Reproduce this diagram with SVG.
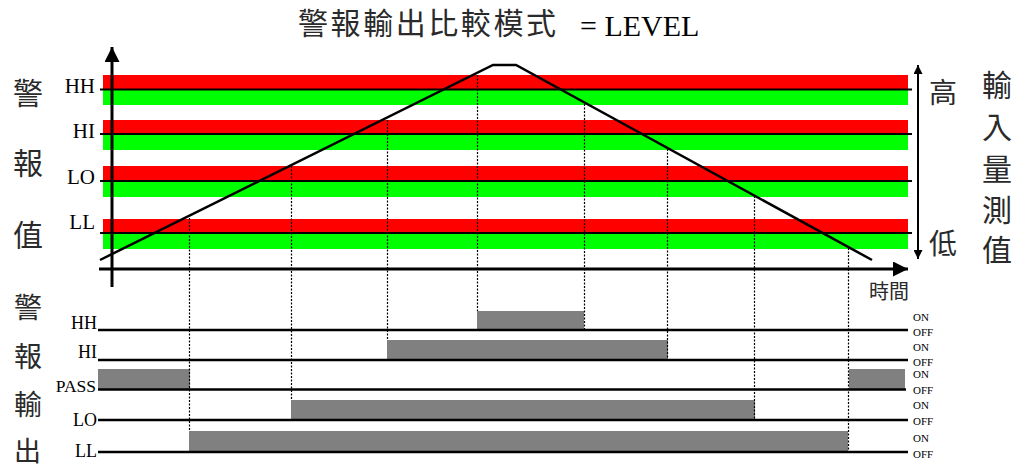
<svg xmlns="http://www.w3.org/2000/svg" width="1021" height="468" viewBox="0 0 1021 468">
<style>
.cjk{font-family:"Noto Sans CJK TC","Noto Sans CJK SC",sans-serif;fill:#2a2a2a}
.lat{font-family:"Liberation Serif","Times New Roman",serif;fill:#000}
.red{fill:#ff0000}
.grn{fill:#00ff00}
.thr{stroke:#000;stroke-width:2.2}
.out{stroke:#000;stroke-width:2.5}
.bar{fill:#808080}
.dot{stroke:#000;stroke-width:1.2;stroke-dasharray:2 1.5;fill:none}
.ax{stroke:#000;stroke-width:3;fill:none}
.onoff{font-size:11px}
</style>
<defs>
<marker id="ah" viewBox="0 0 10 10" refX="10" refY="5" markerWidth="5" markerHeight="5" orient="auto-start-reverse" markerUnits="strokeWidth">
<path d="M0,0 L10,5 L0,10 Z" fill="#000"/>
</marker>
<marker id="ah2" viewBox="0 0 10 10" refX="10" refY="5" markerWidth="6" markerHeight="4.5" orient="auto-start-reverse" markerUnits="strokeWidth">
<path d="M0,0 L10,5 L0,10 Z" fill="#000"/>
</marker>
</defs>

<g id="title">
<text class="cjk" x="298" y="34" font-size="30" textLength="258" lengthAdjust="spacing">警報輸出比較模式</text>
<text class="lat" x="580" y="36" font-size="30">= LEVEL</text>
</g>

<g id="side-labels">
<text class="cjk" x="13" y="104" font-size="30">警</text>
<text class="cjk" x="13" y="174" font-size="30">報</text>
<text class="cjk" x="13" y="246" font-size="30">值</text>
<text class="cjk" x="14" y="318" font-size="28">警</text>
<text class="cjk" x="14" y="367" font-size="28">報</text>
<text class="cjk" x="14" y="415" font-size="28">輸</text>
<text class="cjk" x="14" y="461" font-size="27">出</text>
<text class="cjk" x="929" y="103" font-size="28">高</text>
<text class="cjk" x="929" y="254" font-size="28">低</text>
<text class="cjk" x="982" y="96" font-size="30">輸</text>
<text class="cjk" x="982" y="138" font-size="30">入</text>
<text class="cjk" x="982" y="180" font-size="30">量</text>
<text class="cjk" x="982" y="221" font-size="30">測</text>
<text class="cjk" x="982" y="261" font-size="30">值</text>
<text class="cjk" x="869" y="299" font-size="20">時間</text>
</g>

<g id="bands">
<rect class="red" x="103" y="75" width="805" height="15"/>
<rect class="grn" x="103" y="90" width="805" height="15"/>
<rect class="red" x="103" y="120" width="805" height="15"/>
<rect class="grn" x="103" y="135" width="805" height="15"/>
<rect class="red" x="103" y="166" width="805" height="15"/>
<rect class="grn" x="103" y="181" width="805" height="16"/>
<rect class="red" x="103" y="219" width="805" height="14"/>
<rect class="grn" x="103" y="233" width="805" height="16"/>
</g>

<g id="thresholds">
<line class="thr" x1="100" y1="89.5" x2="912" y2="89.5"/>
<line class="thr" x1="100" y1="134" x2="912" y2="134"/>
<line class="thr" x1="100" y1="181" x2="912" y2="181"/>
<line class="thr" x1="100" y1="233" x2="912" y2="233"/>
<text class="lat" x="95" y="93" font-size="21" text-anchor="end">HH</text>
<text class="lat" x="95" y="138" font-size="21" text-anchor="end">HI</text>
<text class="lat" x="95" y="184" font-size="21" text-anchor="end">LO</text>
<text class="lat" x="95" y="229" font-size="21" text-anchor="end">LL</text>
</g>

<g id="outputs">
<rect class="bar" x="477" y="311" width="107" height="19"/>
<rect class="bar" x="387" y="340" width="281" height="20"/>
<rect class="bar" x="98" y="369" width="92" height="20"/>
<rect class="bar" x="849" y="369" width="56" height="20"/>
<rect class="bar" x="291" y="400" width="464" height="20"/>
<rect class="bar" x="189" y="431" width="659" height="21"/>
<line class="out" x1="98" y1="330" x2="908" y2="330"/>
<line class="out" x1="98" y1="360" x2="908" y2="360"/>
<line class="out" x1="98" y1="389.5" x2="906" y2="389.5"/>
<line class="out" x1="98" y1="420" x2="908" y2="420"/>
<line class="out" x1="98" y1="452" x2="908" y2="452"/>
<text class="lat" x="97" y="329" font-size="18" text-anchor="end">HH</text>
<text class="lat" x="97" y="358" font-size="18" text-anchor="end">HI</text>
<text class="lat" x="96" y="392" font-size="17.5" text-anchor="end">PASS</text>
<text class="lat" x="97" y="426" font-size="18" text-anchor="end">LO</text>
<text class="lat" x="97" y="457" font-size="18" text-anchor="end">LL</text>
<g class="lat onoff">
<text x="913" y="321">ON</text><text x="913" y="336">OFF</text>
<text x="913" y="351">ON</text><text x="913" y="366">OFF</text>
<text x="913" y="378">ON</text><text x="913" y="394">OFF</text>
<text x="913" y="409">ON</text><text x="913" y="425">OFF</text>
<text x="913" y="442">ON</text><text x="913" y="458">OFF</text>
</g>
</g>

<g id="connectors">
<line class="dot" x1="189.5" y1="218" x2="189.5" y2="431"/>
<line class="dot" x1="291.5" y1="166" x2="291.5" y2="400"/>
<line class="dot" x1="387.5" y1="120" x2="387.5" y2="340"/>
<line class="dot" x1="477.5" y1="75" x2="477.5" y2="311"/>
<line class="dot" x1="584.5" y1="104" x2="584.5" y2="330"/>
<line class="dot" x1="667.5" y1="149" x2="667.5" y2="360"/>
<line class="dot" x1="754.5" y1="196" x2="754.5" y2="420"/>
<line class="dot" x1="848.5" y1="248" x2="848.5" y2="452"/>
<polyline points="100,260 493,65 516,65 872,260" fill="none" stroke="#000" stroke-width="2.5"/>
<line class="ax" x1="112" y1="287" x2="112" y2="47" marker-end="url(#ah)"/>
<line class="ax" x1="99" y1="269" x2="908" y2="269" marker-end="url(#ah)"/>
<line x1="918" y1="65" x2="918" y2="259" stroke="#000" stroke-width="2" marker-start="url(#ah2)" marker-end="url(#ah2)"/>
</g>
</svg>
